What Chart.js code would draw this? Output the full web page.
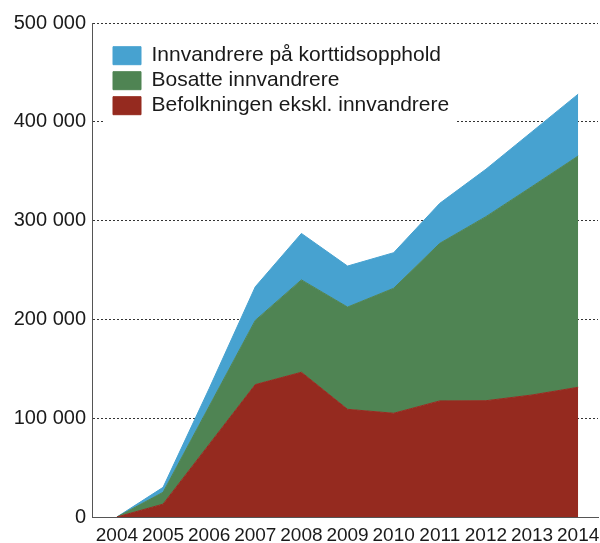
<!DOCTYPE html>
<html>
<head>
<meta charset="utf-8">
<script src="https://cdn.jsdelivr.net/npm/chart.js@4.4.1/dist/chart.umd.min.js"></script>
<style>
  html, body { margin: 0; padding: 0; background: #ffffff; }
  #wrap { width: 600px; height: 543px; }
</style>
</head>
<body>
<div id="wrap"><canvas id="c" width="600" height="543"></canvas></div>
<script>
const years = [2004, 2005, 2006, 2007, 2008, 2009, 2010, 2011, 2012, 2013, 2014];
const befolkningen = [0, 13000, 73500, 134000, 146500, 109000, 105000, 117500, 117700, 123500, 131300];
const bosatte = [0, 12000, 38500, 65000, 93500, 103500, 126500, 159500, 186300, 211000, 234100];
const korttid = [0, 5000, 18000, 34000, 47000, 41500, 36000, 40500, 48000, 55500, 62600];
const yTickValues = [0, 100000, 200000, 300000, 400000, 500000];
const yTickLabels = ['0', '100 000', '200 000', '300 000', '400 000', '500 000'];
const seriesNames = ['Befolkningen ekskl. innvandrere', 'Bosatte innvandrere', 'Innvandrere på korttidsopphold'];

const colRed = '#952a1f';
const colGreen = '#4f8453';
const colBlue = '#47a2d0';

function pts(vals) { return years.map((y, i) => ({ x: y, y: vals[i] })); }

const legendPlacer = {
  id: 'legendPlacer',
  afterLayout(chart) {
    const lg = chart.legend;
    if (!lg) return;
    lg.left = 109; lg.top = 41.2;
    lg.width = 400; lg.height = 110;
    lg.right = lg.left + lg.width; lg.bottom = lg.top + lg.height;
  },
  beforeDatasetsDraw(chart) {
    const ctx = chart.ctx;
    ctx.save();
    ctx.fillStyle = '#ffffff';
    ctx.fillRect(105, 36, 352, 92);
    ctx.restore();
    if (chart.legend) chart.legend.draw();
  }
};

new Chart(document.getElementById('c'), {
  type: 'line',
  data: {
    datasets: [
      { label: seriesNames[0], data: pts(befolkningen), backgroundColor: colRed, borderColor: colRed, fill: 'origin' },
      { label: seriesNames[1], data: pts(bosatte), backgroundColor: colGreen, borderColor: colGreen, fill: '-1' },
      { label: seriesNames[2], data: pts(korttid), backgroundColor: colBlue, borderColor: colBlue, fill: '-1' }
    ]
  },
  options: {
    responsive: false,
    animation: false,
    devicePixelRatio: 1,
    layout: { padding: { left: 0, top: 23, right: 2, bottom: 0 } },
    elements: {
      line: { tension: 0, borderWidth: 1 },
      point: { radius: 0, hoverRadius: 0 }
    },
    plugins: {
      tooltip: { enabled: false },
      legend: {
        position: 'chartArea',
        align: 'start',
        reverse: true,
        labels: {
          boxWidth: 28,
          boxHeight: 18,
          padding: 4,
          color: '#1a1a1a',
          font: { family: '"Liberation Sans", Arial, sans-serif', size: 21 }
        }
      }
    },
    scales: {
      x: {
        type: 'linear',
        min: 2003.46,
        max: 2014.43,
        grid: { display: false, drawTicks: false },
        border: { display: true, color: '#555555', width: 1 },
        afterBuildTicks(s) { s.ticks = years.map(v => ({ value: v })); },
        afterFit(s) { s.height = 26; s.paddingLeft = 0; s.paddingRight = 0; },
        ticks: {
          autoSkip: false,
          maxRotation: 0,
          padding: 7,
          color: '#1a1a1a',
          font: { family: '"Liberation Sans", Arial, sans-serif', size: 19 },
          callback: (v) => String(v)
        }
      },
      y: {
        stacked: true,
        min: 0,
        max: 500000,
        afterBuildTicks(s) { s.ticks = yTickValues.map(v => ({ value: v })); },
        afterFit(s) { s.width = 92; s.paddingTop = 0; s.paddingBottom = 0; },
        grid: { display: true, drawTicks: false, color: '#333333', lineWidth: 1 },
        border: { display: true, color: '#555555', width: 1, dash: [2, 2] },
        ticks: {
          padding: 6,
          color: '#1a1a1a',
          font: { family: '"Liberation Sans", Arial, sans-serif', size: 20 },
          callback: (v) => yTickLabels[yTickValues.indexOf(v)]
        }
      }
    }
  },
  plugins: [legendPlacer]
});
</script>
</body>
</html>
